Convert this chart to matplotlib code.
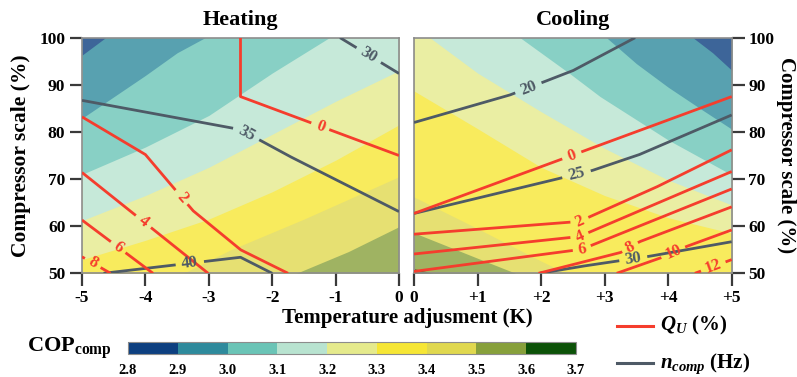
import numpy as np
import matplotlib
matplotlib.use("Agg")
import matplotlib.pyplot as plt
from matplotlib.colors import ListedColormap, BoundaryNorm, to_rgb
from matplotlib.lines import Line2D
import matplotlib as mpl

plt.rcParams['font.family'] = ['Liberation Serif', 'DejaVu Serif']
plt.rcParams['font.weight'] = 'bold'
plt.rcParams['mathtext.fontset'] = 'custom'
plt.rcParams['mathtext.rm'] = 'Liberation Serif:bold'
plt.rcParams['mathtext.bf'] = 'Liberation Serif:bold'
plt.rcParams['mathtext.it'] = 'Liberation Serif:bold:italic'

# ---------------- data ----------------
cop_levels = [2.8, 2.9, 3.0, 3.1, 3.2, 3.3, 3.4, 3.5, 3.6, 3.7]
cop_colors = ["#0d3f80", "#2e8a9c", "#6ac4b6", "#b8e3d0", "#e5ea8c",
              "#f6e635", "#e0d84f", "#87a03b", "#0c5208"]

heat_ticks = [-5, -4, -3, -2, -1, 0]
heat_tick_labels = ['-5', '-4', '-3', '-2', '-1', '0']
cool_ticks = [0, 1, 2, 3, 4, 5]
cool_tick_labels = ['0', '+1', '+2', '+3', '+4', '+5']
scale_ticks = [50, 60, 70, 80, 90, 100]

# COP iso-lines (x: temperature adjustment K, y: compressor scale %)
heat_cop = {
    2.9: ([-5.0, -4.63], [96.3, 100.0]),
    3.0: ([-5.0, -4.0, -3.5, -3.06], [82.9, 92.0, 96.8, 100.0]),
    3.1: ([-5.0, -4.0, -3.0, -2.0, -1.1], [71.0, 76.8, 83.5, 92.5, 100.0]),
    3.2: ([-5.0, -4.0, -3.0, -2.0, -1.0, 0.0], [61.2, 66.5, 72.5, 79.5, 86.5, 93.0]),
    3.3: ([-5.0, -4.0, -3.0, -2.0, -1.0, 0.0], [52.9, 57.0, 61.5, 67.3, 74.0, 81.5]),
    3.4: ([-3.4, -2.67, -1.5, 0.0], [50.0, 54.9, 61.5, 70.5]),
    3.5: ([-1.62, -0.8, 0.0], [50.0, 54.6, 59.9]),
}
cool_cop = {
    2.9: ([4.39, 4.7, 5.0], [100.0, 96.8, 93.1]),
    3.0: ([3.03, 3.5, 4.0, 4.5, 5.0], [100.0, 94.5, 89.5, 85.0, 80.6]),
    3.1: ([1.67, 2.46, 2.93, 4.0, 5.0], [100.0, 92.3, 87.5, 78.3, 70.9]),
    3.2: ([0.25, 1.0, 2.0, 3.0, 4.0, 5.0], [100.0, 92.5, 84.3, 76.5, 69.8, 64.5]),
    3.3: ([0.0, 1.0, 2.0, 3.0, 4.0, 5.0], [88.7, 80.7, 72.5, 66.5, 61.8, 58.5]),
    3.4: ([0.0, 1.0, 2.0, 2.4], [66.2, 59.5, 52.6, 50.0]),
    3.5: ([0.0, 1.0, 1.6], [58.6, 53.2, 50.0]),
    3.6: ([0.0, 0.3], [51.0, 50.0]),
}

# Q_U iso-lines (%)
heat_qu = {
    0: ([-2.5, -2.5, 0.0], [100.0, 87.5, 75.0]),
    2: ([-5.0, -4.0, -3.25, -2.5, -1.75], [83.2, 75.2, 63.3, 55.0, 50.0]),
    4: ([-5.0, -3.01], [71.4, 50.0]),
    6: ([-5.0, -3.88], [61.3, 50.0]),
    8: ([-5.0, -4.55], [53.5, 50.0]),
}
cool_qu = {
    0: ([0.0, 5.0], [62.7, 87.5]),
    2: ([0.0, 2.6, 3.8, 5.0], [58.3, 61.0, 68.2, 76.2]),
    4: ([0.0, 2.6, 5.0], [54.1, 57.8, 71.6]),
    6: ([0.0, 2.64, 5.0], [50.4, 55.1, 67.9]),
    8: ([1.96, 3.25, 3.55, 5.0], [50.0, 54.4, 56.7, 64.1]),
    10: ([3.19, 3.87, 4.29, 5.0], [50.0, 53.2, 55.7, 59.2]),
    12: ([4.42, 5.0], [50.0, 52.9]),
}

# compressor frequency iso-lines (Hz)
heat_n = {
    30: ([-0.93, 0.0], [100.0, 92.4]),
    35: ([-5.0, -2.5, -1.75, 0.0], [86.7, 80.5, 75.0, 63.1]),
    40: ([-4.66, -2.5, -2.0], [50.0, 53.4, 50.0]),
}
cool_n = {
    20: ([0.0, 1.5, 2.5, 3.48], [82.0, 87.8, 93.0, 100.0]),
    25: ([0.0, 2.8, 3.53, 5.0], [62.7, 71.8, 75.1, 83.6]),
    30: ([1.98, 2.6, 3.7, 5.0], [50.0, 51.4, 53.6, 56.7]),
}

# inline label placement (x position along each line)
heat_qu_lab = {0: -1.24, 2: -3.43, 4: -4.03, 6: -4.43, 8: -4.83}
heat_n_lab = {30: -0.48, 35: -2.40, 40: -3.30}
cool_qu_lab = {0: 2.48, 2: 2.61, 4: 2.61, 6: 2.64, 8: 3.40, 10: 4.08, 12: 4.71}
cool_n_lab = {20: 1.80, 25: 2.56, 30: 3.45}

# ---------------- styling ----------------
RED = "#f53d2d"
GREY = "#4e5a66"
ALPHA = 0.8
band_fill = [tuple(ALPHA * np.array(to_rgb(c)) + (1 - ALPHA)) for c in cop_colors]

W, H = 797, 377
fig = plt.figure(figsize=(W / 100, H / 100), dpi=100)
ax_top, ax_bot = 37.7, 273.3
axH = fig.add_axes([82 / W, 1 - ax_bot / H, (399 - 82) / W, (ax_bot - ax_top) / H])
axC = fig.add_axes([414 / W, 1 - ax_bot / H, (731.7 - 414) / W, (ax_bot - ax_top) / H])

axH.set_xlim(-5, 0)
axC.set_xlim(0, 5)
for ax in (axH, axC):
    ax.set_ylim(50, 100)
    for sp in ax.spines.values():
        sp.set_color('#8c8c8c')
        sp.set_linewidth(1.2)
    ax.tick_params(direction='out', length=9, width=1.6, color='#3a3a3a',
                   labelsize=12.5, pad=3)
    ax.set_yticks(scale_ticks)

axH.set_xticks(heat_ticks)
axH.set_xticklabels(heat_tick_labels)
axC.set_xticks(cool_ticks)
axC.set_xticklabels(cool_tick_labels)
axC.yaxis.tick_right()
axC.tick_params(axis='y', left=False, right=True, labelleft=False, labelright=True)


def level_index(v):
    return int(round((v - cop_levels[0]) / 0.1))


def fill_bands(ax, bounds, x0, x1):
    xg = np.linspace(x0, x1, 1201)
    top = max(bounds)
    ax.fill_between(xg, 50, 100, color=band_fill[level_index(top)], lw=0, zorder=1)
    for lev in sorted(bounds, reverse=True):
        bx, by = bounds[lev]
        yb = np.clip(np.interp(xg, bx, by), 50, 100)
        ax.fill_between(xg, yb, 100, color=band_fill[level_index(lev) - 1],
                        lw=0, zorder=1)


def iso_line(ax, xs, ys, color, text, lab_x, gap):
    xs = np.asarray(xs, float)
    ys = np.asarray(ys, float)
    pieces = []
    for i in range(len(xs) - 1):
        t = np.linspace(0, 1, 150, endpoint=False)
        pieces.append(np.column_stack([xs[i] + t * (xs[i + 1] - xs[i]),
                                       ys[i] + t * (ys[i + 1] - ys[i])]))
    pieces.append(np.array([[xs[-1], ys[-1]]]))
    pts = np.vstack(pieces)
    ly = np.interp(lab_x, xs, ys)
    disp = ax.transData.transform(pts)
    lp = ax.transData.transform((lab_x, ly))
    d = np.hypot(disp[:, 0] - lp[0], disp[:, 1] - lp[1])
    pts = pts.copy()
    pts[d < gap] = np.nan
    ax.plot(pts[:, 0], pts[:, 1], color=color, lw=2.0, zorder=3,
            solid_capstyle='butt')
    # orientation of the segment holding the label
    seg = 0
    for i in range(len(xs) - 1):
        if xs[i] <= lab_x <= xs[i + 1] and xs[i + 1] > xs[i]:
            seg = i
            break
    a = ax.transData.transform((xs[seg], ys[seg]))
    b = ax.transData.transform((xs[seg + 1], ys[seg + 1]))
    ang = np.degrees(np.arctan2(b[1] - a[1], b[0] - a[0]))
    if ang > 90:
        ang -= 180
    if ang < -90:
        ang += 180
    ax.text(lab_x, ly, text, color=color, fontsize=12, fontweight='bold',
            rotation=ang, rotation_mode='anchor', ha='center', va='center',
            zorder=4)


fill_bands(axH, heat_cop, -5, 0)
fill_bands(axC, cool_cop, 0, 5)

for lev, (xs, ys) in heat_n.items():
    iso_line(axH, xs, ys, GREY, str(lev), heat_n_lab[lev], 14)
for lev, (xs, ys) in heat_qu.items():
    iso_line(axH, xs, ys, RED, str(lev), heat_qu_lab[lev], 9 if lev < 10 else 13)
for lev, (xs, ys) in cool_n.items():
    iso_line(axC, xs, ys, GREY, str(lev), cool_n_lab[lev], 14)
for lev, (xs, ys) in cool_qu.items():
    iso_line(axC, xs, ys, RED, str(lev), cool_qu_lab[lev], 9 if lev < 10 else 13)

axH.set_title('Heating', fontsize=16, fontweight='bold', pad=9)
axC.set_title('Cooling', fontsize=16, fontweight='bold', pad=9)
axH.set_ylabel('Compressor scale (%)', fontsize=15.5, fontweight='bold', labelpad=6)
axC.yaxis.set_label_position('right')
axC.set_ylabel('Compressor scale (%)', fontsize=15, fontweight='bold',
               rotation=-90, va='bottom', labelpad=1)

fig.text(407 / W, 1 - 318 / H, 'Temperature adjusment (K)', ha='center',
         va='center', fontsize=15, fontweight='bold')

# colour bar
cax = fig.add_axes([128 / W, 1 - 354.3 / H, (576 - 128) / W, 12.6 / H])
cmap = ListedColormap(cop_colors)
norm = BoundaryNorm(cop_levels, cmap.N)
cb = mpl.colorbar.ColorbarBase(cax, cmap=cmap, norm=norm, orientation='horizontal',
                               ticks=cop_levels)
cb.set_ticklabels([f'{v:.1f}' for v in cop_levels])
cb.outline.set_edgecolor('#8c8c8c')
cb.outline.set_linewidth(0.8)
cax.tick_params(length=0, labelsize=10.5, pad=7)
fig.text(27 / W, 1 - 348 / H, r'COP$_{\mathrm{comp}}$', ha='left', va='center',
         fontsize=16)

# line legend
for yy, col, lab in [(325.7, RED, r'$Q_U$ (%)'), (363.3, GREY, r'$n_{comp}$ (Hz)')]:
    fig.add_artist(Line2D([617 / W, 653 / W], [1 - yy / H] * 2,
                          transform=fig.transFigure, color=col, lw=2.2))
    fig.text(660 / W, 1 - yy / H, lab, ha='left', va='center', fontsize=15)

fig.savefig('out.png', dpi=100)
